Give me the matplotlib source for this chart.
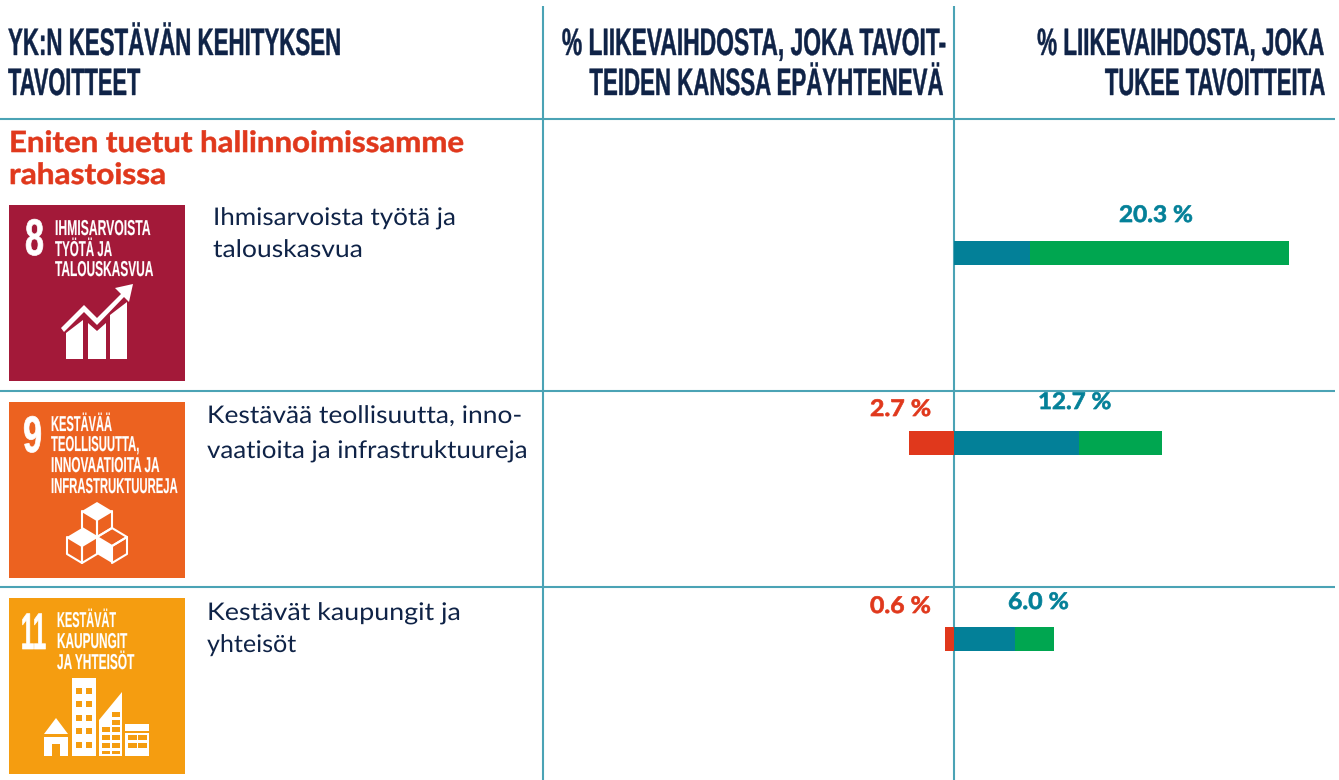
import matplotlib
matplotlib.use('Agg')
import matplotlib.pyplot as plt
from matplotlib.patches import Polygon, Rectangle
from matplotlib.patheffects import AbstractPathEffect
from matplotlib.transforms import Affine2D

# ---------- data ----------
goal_names = ['Ihmisarvoista työtä ja talouskasvua',
              'Kestävää teollisuutta, innovaatioita ja infrastruktuureja',
              'Kestävät kaupungit ja yhteisöt']
obstructing = [0.0, 2.7, 0.55]
enabling = [4.6, 7.6, 3.7]
transitional = [15.7, 5.0, 2.35]
total_labels = ['20.3 %', '12.7 %', '6.0 %']
obstruct_labels = [None, '2.7 %', '0.6 %']

W, H = 1339, 780
NAVY = '#0F2347'
LINE = '#4BA3B5'
RED = '#E0381C'
TEAL = '#038098'
GREEN = '#00A650'

fig = plt.figure(figsize=(W / 100, H / 100), dpi=100, facecolor='white')
ax = fig.add_axes([0, 0, 1, 1])
ax.set_xlim(0, W)
ax.set_ylim(H, 0)
ax.axis('off')

# bar axes: same canvas, x in percent (0 at px 954, 16.5 px per %)
PX = 16.5
bx = fig.add_axes([0, 0, 1, 1], facecolor='none')
bx.set_xlim(-954 / PX, (W - 954) / PX)
bx.set_ylim(H, 0)
bx.axis('off')
bx.set_zorder(2)


class VScale(AbstractPathEffect):
    """Stretch glyph outlines vertically about the baseline, optional embolden."""
    def __init__(self, sy, y0, stroke=0.0):
        super().__init__()
        self.sy, self.y0, self.stroke = sy, y0, stroke

    def draw_path(self, renderer, gc, tpath, affine, rgbFace=None):
        a = affine + Affine2D().translate(0, -self.y0).scale(1, self.sy).translate(0, self.y0)
        g = renderer.new_gc()
        g.copy_properties(gc)
        if self.stroke > 0:
            g.set_linewidth(self.stroke)
            g.set_foreground(rgbFace)
        else:
            g.set_linewidth(0)
        renderer.draw_path(g, tpath, a, rgbFace)
        g.restore()


renderer = fig.canvas.get_renderer()


def fit(x0, x1, base, s, size, color, family, weight='normal', ha='left', stroke=0.0, z=5):
    """Real text, baseline at px y=base, spanning x0..x1 px, glyph height of `size` pt."""
    anchor = x0 if ha == 'left' else x1
    t = ax.text(anchor, base, s, fontsize=size, color=color, family=family,
                fontweight=weight, ha=ha, va='baseline', zorder=z)
    nat = t.get_window_extent(renderer).width
    fs = size * (x1 - x0) / nat
    t.set_fontsize(fs)
    t.set_path_effects([VScale(size / fs, H - base, stroke)])
    return t


HEAD = ['Liberation Sans Narrow', 'Liberation Sans']
BODY = ['Lato', 'DejaVu Sans']

# ---------- header ----------
HS = 27.5
HK = 0.3
fit(8, 341, 55, 'YK:N KESTÄVÄN KEHITYKSEN', HS, NAVY, HEAD, 'bold', stroke=HK)
fit(8, 140, 95, 'TAVOITTEET', HS, NAVY, HEAD, 'bold', stroke=HK)
fit(560, 944, 55, '% LIIKEVAIHDOSTA, JOKA TAVOIT-', HS, NAVY, HEAD, 'bold', 'right', stroke=HK)
fit(590, 944, 95, 'TEIDEN KANSSA EPÄYHTENEVÄ', HS, NAVY, HEAD, 'bold', 'right', stroke=HK)
fit(1038, 1325, 55, '% LIIKEVAIHDOSTA, JOKA', HS, NAVY, HEAD, 'bold', 'right', stroke=HK)
fit(1105, 1325, 95, 'TUKEE TAVOITTEITA', HS, NAVY, HEAD, 'bold', 'right', stroke=HK)

# ---------- rules ----------
for x in (543, 954):
    ax.plot([x, x], [6, 780], color=LINE, lw=1.5, zorder=3, solid_capstyle='butt')
for y in (119, 391, 587):
    ax.plot([0, 1335], [y, y], color=LINE, lw=1.5, zorder=3, solid_capstyle='butt')

# ---------- section heading ----------
fit(9, 463, 152, 'Eniten tuetut hallinnoimissamme', 21, RED, BODY, 'bold', stroke=0.4)
fit(9, 166, 184, 'rahastoissa', 21, RED, BODY, 'bold', stroke=0.4)

# ---------- goal text ----------
fit(213, 456, 225, 'Ihmisarvoista työtä ja', 17.5, NAVY, BODY)
fit(213, 363, 257, 'talouskasvua', 17.5, NAVY, BODY)
fit(207, 522, 423, 'Kestävää teollisuutta, inno-', 17.5, NAVY, BODY)
fit(207, 528, 458, 'vaatioita ja infrastruktuureja', 17.5, NAVY, BODY)
fit(207, 461, 620, 'Kestävät kaupungit ja', 17.5, NAVY, BODY)
fit(207, 296, 652, 'yhteisöt', 17.5, NAVY, BODY)

# ---------- icons ----------
W1 = 'white'
NUM = 37
SM = 15.5
SK = 0.1


def box(x, y, w, h, c=W1, z=4):
    ax.add_patch(Rectangle((x, y), w, h, fc=c, ec='none', zorder=z))


def poly(pts, c=W1, z=4):
    ax.add_patch(Polygon(pts, closed=True, fc=c, ec='none', zorder=z))


def outline(pts, lw=1.5):
    ax.add_patch(Polygon(pts, closed=True, fc='none', ec=W1, lw=lw, zorder=4, joinstyle='round'))


# goal 8
box(9, 205, 176, 176, '#A31939')
fit(25, 44, 255, '8', NUM, W1, HEAD, 'bold', stroke=0.5)
fit(55, 150, 235, 'IHMISARVOISTA', SM, W1, HEAD, 'bold', stroke=SK)
fit(55, 112, 256, 'TYÖTÄ JA', SM, W1, HEAD, 'bold', stroke=SK)
fit(55, 153, 276, 'TALOUSKASVUA', SM, W1, HEAD, 'bold', stroke=SK)
poly([(66, 333), (83, 320), (83, 359), (66, 359)])
poly([(88, 323), (97, 331), (106, 323), (106, 359), (88, 359)])
poly([(110, 315), (127, 302), (127, 359), (110, 359)])
poly([(61, 328), (84, 305), (97, 318), (121, 294), (115, 288), (133, 284),
      (129, 302), (124, 297), (97, 325), (84, 312), (64, 332)])

# goal 9
box(9, 402, 176, 176, '#EC6220')
fit(23, 42, 452, '9', NUM, W1, HEAD, 'bold', stroke=0.5)
fit(51, 112, 431, 'KESTÄVÄÄ', SM, W1, HEAD, 'bold', stroke=SK)
fit(51, 139, 451, 'TEOLLISUUTTA,', SM, W1, HEAD, 'bold', stroke=SK)
fit(51, 159, 472, 'INNOVAATIOITA JA', SM, W1, HEAD, 'bold', stroke=SK)
fit(51, 177, 493, 'INFRASTRUKTUUREJA', SM, W1, HEAD, 'bold', stroke=SK)
poly([(97, 502), (112, 511), (97, 520), (82, 511)])
outline([(82, 511), (97, 520), (97, 537), (82, 528)])
outline([(112, 511), (97, 520), (97, 537), (112, 528)])
poly([(82, 528), (97, 537), (82, 546), (67, 537)])
outline([(67, 537), (82, 546), (82, 563), (67, 554)])
outline([(97, 537), (82, 546), (82, 563), (97, 554)])
outline([(112, 528), (127, 537), (112, 546), (97, 537)])
poly([(97, 537), (112, 546), (112, 563), (97, 554)])
outline([(127, 537), (112, 546), (112, 563), (127, 554)])

# goal 11
box(9, 598, 176, 176, '#F59D10')
fit(21, 46, 649, '11', NUM, W1, HEAD, 'bold', stroke=0.5)
fit(57, 116, 627, 'KESTÄVÄT', SM, W1, HEAD, 'bold', stroke=SK)
fit(57, 127, 648, 'KAUPUNGIT', SM, W1, HEAD, 'bold', stroke=SK)
fit(57, 134, 669, 'JA YHTEISÖT', SM, W1, HEAD, 'bold', stroke=SK)
C11 = '#F59D10'
# house
poly([(56, 718), (68, 734), (44, 734)])
box(44, 737, 24, 19)
box(52, 744, 8, 12, C11, 5)
# tower
box(72, 678, 24, 78)
for r in range(5):
    for c in range(2):
        box(76 + c * 10, 688 + r * 13.4, 6, 6, C11, 5)
# slanted building
poly([(99, 720), (122, 692), (122, 756), (99, 756)])
for y0, h0 in ((727, 5), (735, 5), (743, 5), (751, 3)):
    for x0 in (102, 112):
        box(x0, y0, 8, h0, C11, 5)
box(112, 712, 8, 5, C11, 5)
box(112, 720, 8, 5, C11, 5)
# low building
box(125, 724, 24, 7)
box(125, 733, 24, 23)
for y0 in (735, 743):
    for x0 in (128, 138):
        box(x0, y0, 9, 5, C11, 5)

# ---------- bars ----------
rows = [241, 431, 627]
bh = 24
for i, yy in enumerate(rows):
    yc = yy + bh / 2
    bx.barh(yc, -obstructing[i], height=bh, color=RED, lw=0)
    bx.barh(yc, enabling[i], height=bh, color=TEAL, lw=0)
    bx.barh(yc, transitional[i], left=enabling[i], height=bh, color=GREEN, lw=0)

# ---------- value labels ----------
LS = 0.5
fit(1119, 1193, 222, total_labels[0], 16.5, TEAL, BODY, 'bold', stroke=LS)
fit(1038, 1111, 409, total_labels[1], 16.5, TEAL, BODY, 'bold', stroke=LS)
fit(1008, 1069, 609, total_labels[2], 16.5, TEAL, BODY, 'bold', stroke=LS)
fit(870, 931, 416, obstruct_labels[1], 16.5, RED, BODY, 'bold', stroke=LS)
fit(870, 931, 613, obstruct_labels[2], 16.5, RED, BODY, 'bold', stroke=LS)

fig.savefig('out.png', dpi=100, facecolor='white')
